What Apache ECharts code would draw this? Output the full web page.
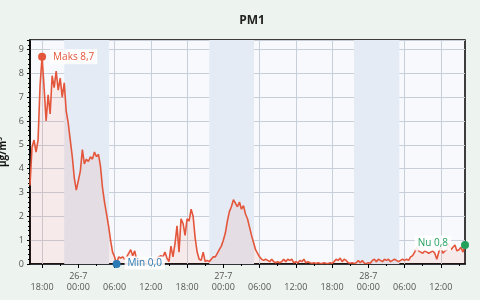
<!DOCTYPE html>
<html>
<head>
<meta charset="utf-8">
<script src="https://cdn.jsdelivr.net/npm/echarts@6/dist/echarts.min.js"></script>
<style>
html,body{margin:0;padding:0;background:#edf3ee;}
#c{width:480px;height:300px;}
</style>
</head>
<body>
<div id="c"></div>
<script>
// Series start: 25-7 16:00, one reading per 20 minutes
const startTime = [2024, 6, 25, 16, 0];
const stepMinutes = 20;
const pm1 = [
  3.3, 4.9, 5.2, 4.7, 5.2, 7.5, 8.7, 7.4, 6.0, 7.1,
  6.3, 7.9, 7.4, 8.1, 7.3, 7.8, 7.0, 7.6, 6.4, 5.9,
  5.2, 4.5, 3.6, 3.1, 3.5, 3.9, 4.8, 4.2, 4.4, 4.3,
  4.5, 4.4, 4.7, 4.5, 4.6, 4.1, 3.2, 2.6, 2.1, 1.6,
  1.0, 0.5, 0.3, 0.0, 0.3, 0.25, 0.3, 0.2, 0.3, 0.45,
  0.6, 0.35, 0.55, 0.15, 0.1, 0.2, 0.1, 0.15, 0.05, 0.1,
  0.2, 0.1, 0.15, 0.25, 0.3, 0.35, 0.3, 0.5, 0.25, 0.1,
  0.75, 0.3, 0.85, 1.6, 0.5, 1.9, 1.7, 1.2, 1.9, 1.8,
  2.3, 2.0, 1.1, 0.5, 0.2, 0.15, 0.5, 0.1, 0.15, 0.1,
  0.2, 0.3, 0.3, 0.45, 0.6, 0.75, 1.0, 1.3, 1.8, 2.2,
  2.4, 2.7, 2.55, 2.4, 2.6, 2.3, 2.45, 2.1, 1.9, 1.55,
  1.2, 0.9, 0.6, 0.45, 0.3, 0.2, 0.15, 0.2, 0.15, 0.1,
  0.2, 0.1, 0.05, 0.1, 0.05, 0.1, 0.2, 0.1, 0.2, 0.15,
  0.2, 0.05, 0.1, 0.05, 0.15, 0.1, 0.2, 0.05, 0.1, 0.05,
  0.03, 0.05, 0.02, 0.05, 0.03, 0.02, 0.05, 0.03, 0.02, 0.05,
  0.03, 0.1, 0.2, 0.15, 0.25, 0.1, 0.2, 0.15, 0.05, 0.03,
  0.05, 0.02, 0.05, 0.15, 0.05, 0.15, 0.03, 0.02, 0.05, 0.03,
  0.15, 0.2, 0.1, 0.2, 0.15, 0.1, 0.2, 0.15, 0.2, 0.1,
  0.15, 0.2, 0.15, 0.1, 0.15, 0.2, 0.15, 0.2, 0.15, 0.3,
  0.35, 0.5, 0.7, 0.55, 0.5, 0.45, 0.55, 0.5, 0.45, 0.5,
  0.55, 0.45, 0.2, 0.5, 0.75, 0.45, 0.55, 0.6, 0.85, 0.6,
  0.7, 0.8, 0.55, 0.6, 0.7, 0.5, 0.8
];
// Night (dark) periods: [start, end] as [month-index, day, hour, minute]
const nightBands = [
  [[6, 25, 21, 40], [6, 26, 5, 5]],
  [[6, 26, 21, 40], [6, 27, 5, 5]],
  [[6, 27, 21, 38], [6, 28, 5, 8]]
];
// x-axis labelled ticks (hours after 25-7 00:00) and minor ticks
const majorTickHours = [18, 24, 30, 36, 42, 48, 54, 60, 66, 72, 78, 84];
const minorTickHours = [21, 27, 33, 39, 45, 51, 57, 63, 69, 75, 81, 87];
const yTicks = [0, 1, 2, 3, 4, 5, 6, 7, 8, 9];
const yMax = 9.4;
const title = 'PM1';
const unit = 'µg/m³';

const t0 = new Date(startTime[0], startTime[1], startTime[2], startTime[3], startTime[4]).getTime();
const day0 = new Date(startTime[0], startTime[1], startTime[2], 0, 0).getTime();
const H = 3600 * 1000;
const step = stepMinutes * 60 * 1000;
const seriesData = pm1.map((v, i) => [t0 + i * step, v]);
const tEnd = t0 + (pm1.length - 1) * step;
const ts = a => new Date(startTime[0], a[0], a[1], a[2], a[3]).getTime();
const fmt = v => v.toFixed(1).replace('.', ',');
const pad = n => (n < 10 ? '0' : '') + n;
const last = seriesData[seriesData.length - 1];
const majorTimes = majorTickHours.map(h => day0 + h * H);
const minorTimes = minorTickHours.map(h => day0 + h * H);

const chart = echarts.init(document.getElementById('c'), null, {renderer: 'canvas'});
chart.setOption({
  backgroundColor: '#edf3ee',
  animation: false,
  title: {
    text: title, left: 247, top: 10, textAlign: 'center',
    textStyle: {fontSize: 12, fontWeight: 'bold', color: '#222', fontFamily: 'Open Sans'}
  },
  grid: {
    left: 30, right: 15, top: 40, bottom: 36,
    outerBoundsMode: 'none', containLabel: false,
    show: true, backgroundColor: '#f8f9fd', borderColor: '#000', borderWidth: 1.5
  },
  xAxis: [{
    type: 'value', min: t0, max: tEnd,
    axisLine: {show: true, lineStyle: {color: '#000', width: 1.5}},
    axisTick: {show: true, customValues: majorTimes, length: 4, lineStyle: {color: '#000'}},
    minorTick: {show: false},
    splitLine: {show: false},
    axisLabel: {
      customValues: majorTimes,
      fontSize: 9, color: '#555', lineHeight: 11, margin: 7, fontFamily: 'Open Sans',
      hideOverlap: false, showMinLabel: true, showMaxLabel: true,
      formatter: function (value) {
        const d = new Date(value);
        const t = pad(d.getHours()) + ':00';
        if (d.getHours() === 0) return d.getDate() + '-' + (d.getMonth() + 1) + '\n' + t;
        return '\n' + t;
      }
    }
  }, {
    type: 'value', min: t0, max: tEnd, position: 'bottom',
    axisLine: {show: false},
    axisTick: {show: true, customValues: minorTimes, length: 2, lineStyle: {color: '#000'}},
    axisLabel: {show: false},
    splitLine: {show: false}
  }],
  yAxis: {
    type: 'value', min: 0, max: yMax, interval: 1,
    name: unit, nameLocation: 'middle', nameRotate: 90, nameGap: 18,
    nameTextStyle: {fontSize: 10, fontWeight: 'bold', color: '#111', fontFamily: 'Open Sans'},
    axisLine: {show: true, lineStyle: {color: '#000', width: 1.5}},
    axisTick: {show: true, length: 3, lineStyle: {color: '#000'}},
    minorTick: {show: true, splitNumber: 5, length: 2, lineStyle: {color: '#000'}},
    splitLine: {show: true, lineStyle: {color: '#c9cfd9', width: 1}},
    axisLabel: {
      fontSize: 9, color: '#555', margin: 6, fontFamily: 'Open Sans',
      showMaxLabel: false,
      formatter: v => (yTicks.indexOf(v) >= 0 ? String(v) : '')
    }
  },
  series: [{
    type: 'line',
    data: seriesData,
    showSymbol: false,
    z: 2,
    lineStyle: {color: '#e4563b', width: 1.6},
    itemStyle: {color: '#e4563b'},
    areaStyle: {color: 'rgba(228,86,59,0.13)'},
    markLine: {
      z: 0.5,
      silent: true,
      symbol: 'none',
      label: {show: false},
      lineStyle: {color: '#c9cfd9', width: 1, type: 'solid'},
      data: majorTimes.map(t => ({xAxis: t}))
    },
    markArea: {
      z: 1,
      silent: true,
      itemStyle: {color: '#e4ebf5'},
      label: {show: false},
      data: nightBands.map(b => [{xAxis: ts(b[0])}, {xAxis: ts(b[1])}])
    },
    markPoint: {
      symbol: 'circle', symbolSize: 8,
      data: [
        {
          type: 'max', name: 'Maks',
          itemStyle: {color: '#e4563b'},
          label: {
            show: true, position: 'right', distance: 4,
            formatter: p => 'Maks ' + fmt(p.value),
            color: '#e4563b', fontSize: 10, fontFamily: 'Open Sans',
            backgroundColor: 'rgba(255,255,255,0.9)', padding: [3, 3, 2, 3]
          }
        },
        {
          type: 'min', name: 'Min',
          itemStyle: {color: '#2a7ab5'},
          label: {
            show: true, position: 'right', distance: 4, offset: [0, -1],
            formatter: p => 'Min ' + fmt(p.value),
            color: '#2a7ab5', fontSize: 10, fontFamily: 'Open Sans',
            backgroundColor: 'rgba(255,255,255,0.9)', padding: [2, 3, 1, 3]
          }
        },
        {
          name: 'Nu', coord: last, value: last[1],
          itemStyle: {color: '#23a05c'},
          label: {
            show: true, position: 'left', distance: 10, offset: [0, -2],
            formatter: p => 'Nu ' + fmt(p.value),
            color: '#23a05c', fontSize: 10, fontFamily: 'Open Sans',
            backgroundColor: 'rgba(255,255,255,0.9)', padding: [3, 3, 2, 3]
          }
        }
      ]
    }
  }]
});
</script>
</body>
</html>
